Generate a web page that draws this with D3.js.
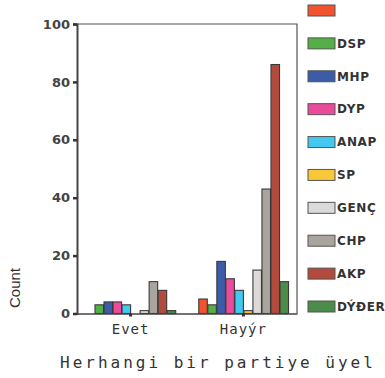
<!DOCTYPE html>
<html><head><meta charset="utf-8">
<script src="https://cdn.jsdelivr.net/npm/d3@7"></script>
<style>
html,body{margin:0;padding:0;background:#fff;overflow:hidden}
</style></head>
<body><svg id="c" width="385" height="378"></svg>
<script>
const categories = ["Evet", "Hayýr"];
const parties = ["", "DSP", "MHP", "DYP", "ANAP", "SP", "GENÇ", "CHP", "AKP", "DÝÐER"];
const evetValues = [0, 3, 4, 4, 3, 0, 1, 11, 8, 1];
const hayirValues = [5, 3, 18, 12, 8, 1, 15, 43, 86, 11];
const colors = ["#f2532f", "#52b046", "#3d5ca8", "#ea4b9b", "#43c9ef", "#f8c83a", "#dcd9d9", "#a9a59e", "#b24b3d", "#4b8c4a"];
const yTicks = [0, 20, 40, 60, 80, 100];
const yLabel = "Count";
const xTitle = "Herhangi bir partiye üyel";

const seriesByCat = {"Evet": evetValues, "Hayýr": hayirValues};
const svg = d3.select("#c");
const m = {left: 77, right: 297, top: 24, bottom: 313.5};

const y = d3.scaleLinear().domain([0, 100]).range([m.bottom, m.top]);
const x0 = d3.scaleBand().domain(categories).range([m.left, m.right]).paddingInner(0.2).paddingOuter(0.075);
const x1 = d3.scaleBand().domain(parties.map((p, i) => i)).range([0, x0.bandwidth()]);

// frame top and right
svg.append("path")
  .attr("d", `M${m.left},${m.top}H${m.right}V${m.bottom}`)
  .attr("fill", "none").attr("stroke", "#555").attr("stroke-width", 1.2);

// bars
const groups = svg.append("g").selectAll("g").data(categories).join("g")
  .attr("transform", d => `translate(${x0(d)},0)`);
groups.selectAll("rect")
  .data(c => seriesByCat[c].map((v, i) => ({i, v})).filter(d => d.v > 0))
  .join("rect")
  .attr("x", d => x1(d.i) + 0.5)
  .attr("width", x1.bandwidth() - 0.5)
  .attr("y", d => y(d.v))
  .attr("height", d => y(0) - y(d.v))
  .attr("fill", d => colors[d.i])
  .attr("stroke", "#3a3a3a").attr("stroke-width", 1.1);

// y axis
const yAxis = svg.append("g").attr("transform", `translate(${m.left},0)`)
  .call(d3.axisLeft(y).tickValues(yTicks).tickSize(4).tickPadding(3));
yAxis.select(".domain").attr("stroke", "#444").attr("stroke-width", 2);
yAxis.selectAll(".tick line").attr("stroke", "#333").attr("stroke-width", 2.5);
yAxis.selectAll(".tick text")
  .attr("font-family", "DejaVu Sans").attr("font-weight", "bold")
  .attr("font-size", 13).attr("fill", "#444");

// x axis
const xAxis = svg.append("g").attr("transform", `translate(0,${m.bottom})`)
  .call(d3.axisBottom(x0).tickSize(3).tickPadding(8).tickSizeOuter(0));
xAxis.select(".domain").attr("stroke", "#444").attr("stroke-width", 1.5);
xAxis.selectAll(".tick line").attr("stroke", "#333").attr("stroke-width", 3);
xAxis.selectAll(".tick text")
  .attr("font-family", "DejaVu Sans Mono").attr("font-size", 14)
  .attr("letter-spacing", 1).attr("fill", "#333");

// y label
svg.append("text")
  .attr("transform", "translate(20,288) rotate(-90)")
  .attr("text-anchor", "middle")
  .attr("font-family", "Liberation Sans").attr("font-size", 15)
  .attr("fill", "#333").text(yLabel);

// x title
svg.append("text")
  .attr("x", 60).attr("y", 368)
  .attr("font-family", "DejaVu Sans Mono").attr("font-size", 16)
  .attr("letter-spacing", 3.0).attr("fill", "#333").text(xTitle);

// legend
const ly = d3.scalePoint().domain(parties.map((p, i) => i)).range([10.5, 306.5]);
const leg = svg.append("g").selectAll("g").data(parties).join("g")
  .attr("transform", (d, i) => `translate(308,${ly(i)})`);
leg.append("rect").attr("x", 0).attr("y", -5.5).attr("width", 27).attr("height", 11)
  .attr("fill", (d, i) => colors[i]).attr("stroke", "#555").attr("stroke-width", 1);
leg.append("text").attr("x", 29).attr("y", 0).attr("dy", "0.36em")
  .attr("font-family", "DejaVu Sans").attr("font-weight", "bold")
  .attr("font-size", 12).attr("letter-spacing", 0.6).attr("fill", "#333")
  .text(d => d);
</script></body></html>
